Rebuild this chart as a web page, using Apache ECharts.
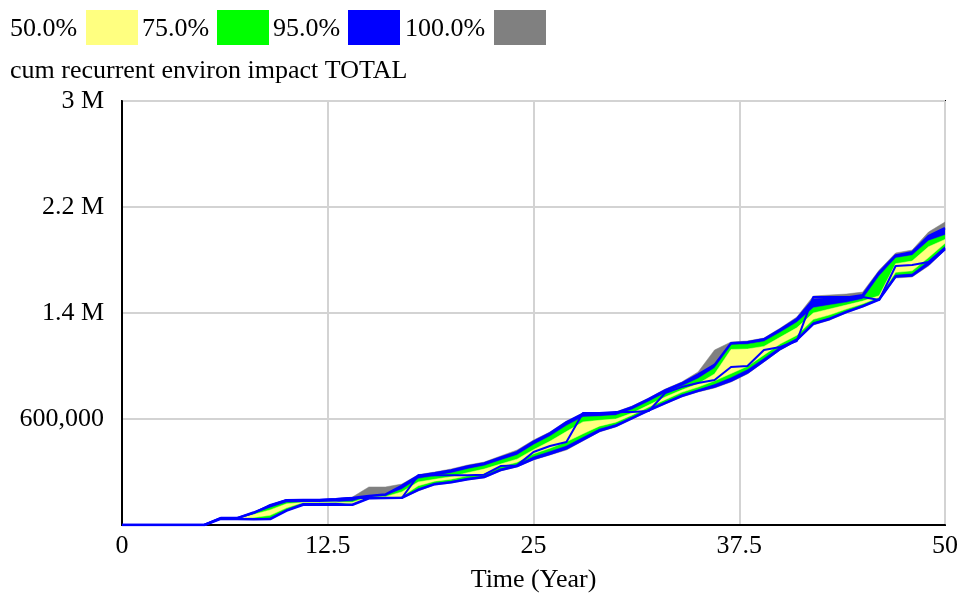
<!DOCTYPE html>
<html>
<head>
<meta charset="utf-8">
<script src="https://cdn.jsdelivr.net/npm/echarts@6/dist/echarts.min.js"></script>
<style>
html,body{margin:0;padding:0;background:#fff;}
#chart{width:960px;height:596px;}
</style>
</head>
<body>
<div id="chart"></div>
<script>
// Time (Year)
const years = [0,1,2,3,4,5,6,7,8,9,10,11,12,13,14,15,16,17,18,19,20,21,22,23,24,25,26,27,28,29,30,31,32,33,34,35,36,37,38,39,40,41,42,43,44,45,46,47,48,49,50];
// Percentile envelopes of "cum recurrent environ impact TOTAL" (thousands)
const hi100 = [-200,-200,-200,-200,-200,-200,-147,-147,-102,-49,-11,-11,-11,-4,11,87,87,109,180,200,223,253,275,321,366,441,502,585,645,645,653,698,758,826,879,955,1121,1181,1189,1211,1287,1370,1528,1536,1543,1558,1724,1853,1875,2011,2087];
const hi95  = [-200,-200,-200,-200,-200,-200,-148,-148,-106,-56,-13,-12,-12,-6,4,19,30,95,172,190,212,242,265,308,350,428,492,575,638,638,645,690,750,816,868,935,1008,1172,1180,1202,1275,1355,1500,1505,1515,1535,1705,1835,1858,1980,2041];
const hi75  = [-200,-200,-200,-200,-200,-200,-149,-149,-113,-70,-30,-30,-30,-28,-20,15,20,70,150,170,192,222,247,288,328,405,470,550,615,620,628,672,732,796,848,905,985,1160,1165,1185,1255,1330,1440,1460,1480,1505,1680,1815,1835,1945,1989];
const hi50  = [-200,-200,-200,-200,-200,-200,-150,-150,-121,-86,-40,-30,-30,-28,-28,12,13,50,125,145,165,195,222,260,297,368,432,505,578,590,600,645,705,766,818,866,940,1125,1128,1148,1218,1288,1400,1430,1460,1490,1530,1772,1792,1900,1955];
const lo50  = [-200,-200,-200,-200,-200,-200,-152,-152,-143,-127,-70,-30,-30,-28,-42,6,8,15,96,131,146,171,186,241,274,337,380,428,488,546,576,631,691,746,801,841,888,943,998,1083,1168,1232,1352,1386,1430,1470,1518,1707,1718,1818,1926];
const lo75  = [-200,-200,-200,-200,-200,-200,-153,-153,-151,-143,-80,-30,-30,-28,-44,4,6,10,78,118,132,157,172,227,258,318,358,400,465,528,562,618,678,732,787,825,865,915,975,1060,1148,1212,1332,1368,1418,1460,1508,1690,1698,1795,1906];
const lo95  = [-200,-200,-200,-200,-200,-200,-154,-154,-156,-155,-92,-48,-48,-48,-47,2,4,5,65,108,122,146,162,215,245,300,338,378,445,510,548,606,666,720,773,812,845,890,952,1040,1130,1197,1318,1355,1407,1451,1502,1675,1683,1770,1883];
const lo100 = [-200,-200,-200,-200,-200,-200,-155,-155,-158,-158,-94,-49,-49,-49,-49,-3,2,2,57,102,117,140,155,208,238,291,328,366,434,502,540,600,660,713,766,804,834,879,940,1030,1121,1189,1309,1347,1400,1445,1498,1664,1672,1755,1875];
// single simulation run drawn over the bands (thousands)
const baseRun = [-200,-200,-200,-200,-200,-200,-147,-147,-110,-49,-11,-11,-11,-4,4,4,4,4,175,175,175,175,180,245,250,351,396,426,645,645,653,653,660,796,841,872,894,992,1000,1121,1143,1189,1521,1521,1521,1521,1498,1755,1762,1785,1890];

// legend / labels
const legendLabels = ['50.0%','75.0%','95.0%','100.0%'];
const yTickLabels = {'600000':'600,000','1400000':'1.4 M','2200000':'2.2 M','3000000':'3 M'};
const chartTitle = 'cum recurrent environ impact TOTAL';
const xName = 'Time (Year)';

const C_YEL = '#FFFF80', C_GRN = '#00FF00', C_BLU = '#0000FF', C_GRY = '#808080';
const FONT = 'Liberation Serif';
const UNIT = 1000;

// bands: [upper, lower, colour]
const bands = [
  [hi100, lo100, C_GRY],
  [hi95, lo95, C_BLU],
  [hi75, lo75, C_GRN],
  [hi50, lo50, C_YEL]
];

function renderBand(params, api){
  const b = bands[params.dataIndex];
  const up = b[0], lo = b[1];
  const pts = [];
  for (let i = 0; i < years.length; i++) pts.push(api.coord([years[i], up[i]*UNIT]));
  for (let i = years.length - 1; i >= 0; i--) pts.push(api.coord([years[i], lo[i]*UNIT]));
  return {type:'polygon', shape:{points: pts}, style:{fill: b[2], stroke: b[2], lineWidth: 0.5}};
}

function lineData(arr){ return years.map((t,i)=>[t, arr[i]*UNIT]); }

const series = [
  {name:'bands', type:'custom', renderItem: renderBand, data: bands.map((b,i)=>[0,0]), silent:true, z:2, clip:true},
  {name:'95% upper', type:'line', data: lineData(hi95), showSymbol:false, symbol:'none', lineStyle:{width:2.5, color:C_BLU}, silent:true, z:3},
  {name:'95% lower', type:'line', data: lineData(lo95), showSymbol:false, symbol:'none', lineStyle:{width:2.5, color:C_BLU}, silent:true, z:3},
  {name:'run', type:'line', data: lineData(baseRun), showSymbol:false, symbol:'none', lineStyle:{width:2, color:C_BLU}, silent:true, z:4}
];

const legendColors = [C_YEL, C_GRN, C_BLU, C_GRY];
const legendTextX = [10, 142, 273, 405];
const legendBoxX = [86, 217, 348, 494];
const graphics = [];
legendLabels.forEach((lab,i)=>{
  graphics.push({type:'text', left: legendTextX[i], top: 16,
    style:{text: lab, font: '26px "'+FONT+'"', fill:'#000'}});
  graphics.push({type:'rect', shape:{x:legendBoxX[i], y:10, width:52, height:35},
    style:{fill: legendColors[i]}});
});
graphics.push({type:'text', left: 10, top: 58, style:{text: chartTitle, font:'26px "'+FONT+'"', fill:'#000'}});

const chart = echarts.init(document.getElementById('chart'), null, {renderer:'canvas'});
chart.setOption({
  backgroundColor:'#fff',
  animation:false,
  grid:{left:122, right:15, top:101, bottom:71, show:true, borderColor:'#000', borderWidth:2,
        backgroundColor:'transparent', containLabel:false, outerBoundsMode:'none'},
  xAxis:{type:'value', min:0, max:50, interval:12.5,
    name: xName, nameLocation:'middle', nameGap:42,
    nameTextStyle:{fontFamily:FONT, fontSize:26, color:'#000'},
    axisLine:{show:true, onZero:false, lineStyle:{color:'#000', width:2}},
    axisTick:{show:false},
    axisLabel:{fontFamily:FONT, fontSize:26, color:'#000', margin:8, formatter:(v)=>String(v)},
    splitLine:{show:true, lineStyle:{color:'#d3d3d3', width:2}}},
  yAxis:{type:'value', min:-200000, max:3000000, interval:800000,
    axisLine:{show:true, onZero:false, lineStyle:{color:'#000', width:2}},
    axisTick:{show:false},
    axisLabel:{fontFamily:FONT, fontSize:26, color:'#000', margin:18,
      formatter:(v)=> yTickLabels[String(Math.round(v))] || ''},
    splitLine:{show:true, lineStyle:{color:'#d3d3d3', width:2}}},
  graphic: graphics,
  series: series
});
</script>
</body>
</html>
